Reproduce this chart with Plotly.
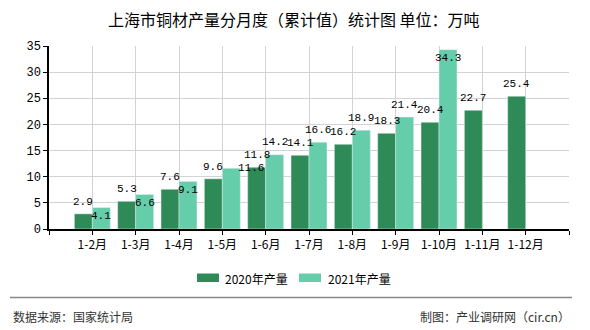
import plotly.graph_objects as go

# ---- data ----
categories = ["1-2月", "1-3月", "1-4月", "1-5月", "1-6月", "1-7月",
              "1-8月", "1-9月", "1-10月", "1-11月", "1-12月"]
values_2020 = [2.9, 5.3, 7.6, 9.6, 11.8, 14.1, 16.2, 18.3, 20.4, 22.7, 25.4]
values_2021 = [4.1, 6.6, 9.1, 11.6, 14.2, 16.6, 18.9, 21.4, 34.3]
series_names = ["2020年产量", "2021年产量"]
y_ticks = [0, 5, 10, 15, 20, 25, 30, 35]

title_text = "上海市铜材产量分月度（累计值）统计图 单位：万吨"
source_text = "数据来源：国家统计局"
maker_text = "制图：产业调研网（cir.cn）"

# ---- style ----
C2020 = "#2E8B57"
C2021 = "#66CDAA"
W, H = 590, 330
ML, MR, MT, MB = 49, 21, 46, 101
PW, PH = W - ML - MR, H - MT - MB
BAR_W = 0.415
CJK = "Noto Sans CJK SC"
NUM = "Liberation Mono"

# label pixel shifts (xshift, yshift) to mimic the reference's label placement
shift_2020 = [(0, 12)] * len(values_2020)
shift_2021 = [(0, -8), (0, -9), (0, -9), (20, 0), (0, 13), (0, 12), (0, 12), (0, 12), (0, -8)]


def px_x(px):
    return (px - ML) / PW


def px_y(py):
    return (H - MB - py) / PH


xs = list(range(len(categories)))

fig = go.Figure()
fig.add_trace(go.Bar(x=xs[:len(values_2020)], y=values_2020, name=series_names[0],
                     marker_color=C2020, width=BAR_W, offset=-BAR_W, showlegend=False))
fig.add_trace(go.Bar(x=xs[:len(values_2021)], y=values_2021, name=series_names[1],
                     marker_color=C2021, width=BAR_W, offset=0, showlegend=False))

annotations = []
for i, v in enumerate(values_2020):
    dx, dy = shift_2020[i]
    annotations.append(dict(x=xs[i] - BAR_W / 2, y=v, text=f"{v:.1f}", showarrow=False,
                            xanchor="center", yanchor="middle", xshift=dx, yshift=dy,
                            font=dict(family=NUM, size=11, color="#000")))
for i, v in enumerate(values_2021):
    dx, dy = shift_2021[i]
    annotations.append(dict(x=xs[i] + BAR_W / 2, y=v, text=f"{v:.1f}", showarrow=False,
                            xanchor="center", yanchor="middle", xshift=dx, yshift=dy,
                            font=dict(family=NUM, size=11, color="#000")))

# title
annotations.append(dict(xref="paper", yref="paper", x=px_x(294), y=px_y(19), text=title_text,
                        showarrow=False, xanchor="center", yanchor="middle",
                        font=dict(family=CJK, size=16, color="#000")))

# custom legend
shapes = []
legend_items = [(197, 223, C2020, series_names[0]), (299, 326, C2021, series_names[1])]
for sx, tx, col, name in legend_items:
    shapes.append(dict(type="rect", xref="paper", yref="paper",
                       x0=px_x(sx), x1=px_x(sx + 22), y0=px_y(282), y1=px_y(273.5),
                       fillcolor=col, line=dict(width=0)))
    annotations.append(dict(xref="paper", yref="paper", x=px_x(tx), y=px_y(278.5), text=name,
                            showarrow=False, xanchor="left", yanchor="middle",
                            font=dict(family=CJK, size=12, color="#000")))

# footer
shapes.append(dict(type="line", xref="paper", yref="paper", x0=px_x(10), x1=px_x(572),
                   y0=px_y(297.5), y1=px_y(297.5), line=dict(color="#888888", width=1.5)))
annotations.append(dict(xref="paper", yref="paper", x=px_x(11), y=px_y(316), text=source_text,
                        showarrow=False, xanchor="left", yanchor="middle",
                        font=dict(family=CJK, size=12, color="#333")))
annotations.append(dict(xref="paper", yref="paper", x=px_x(572), y=px_y(316), text=maker_text,
                        showarrow=False, xanchor="right", yanchor="middle",
                        font=dict(family=CJK, size=12, color="#333")))

tickvals = [-1] + xs + [len(categories)]
ticktext = [""] + categories + [""]

fig.update_layout(
    width=W, height=H,
    margin=dict(l=ML, r=MR, t=MT, b=MB, pad=0),
    paper_bgcolor="white", plot_bgcolor="white",
    barmode="overlay",
    showlegend=False,
    annotations=annotations,
    shapes=shapes,
    xaxis=dict(range=[-1, len(categories)], tickvals=tickvals, ticktext=ticktext,
               showgrid=True, gridcolor="#d3d3d3", gridwidth=1,
               showline=True, linecolor="#000", linewidth=1.5,
               ticks="outside", ticklen=4, tickcolor="#000",
               tickfont=dict(family=CJK, size=12, color="#000"), zeroline=False,
               fixedrange=True),
    yaxis=dict(range=[0, 35], tickvals=y_ticks,
               showgrid=True, gridcolor="#d3d3d3", gridwidth=1,
               showline=True, linecolor="#000", linewidth=1.5,
               ticks="outside", ticklen=4, tickcolor="#000",
               tickfont=dict(family=NUM, size=12, color="#000"), zeroline=False,
               fixedrange=True),
)

fig.write_html("out.html")
